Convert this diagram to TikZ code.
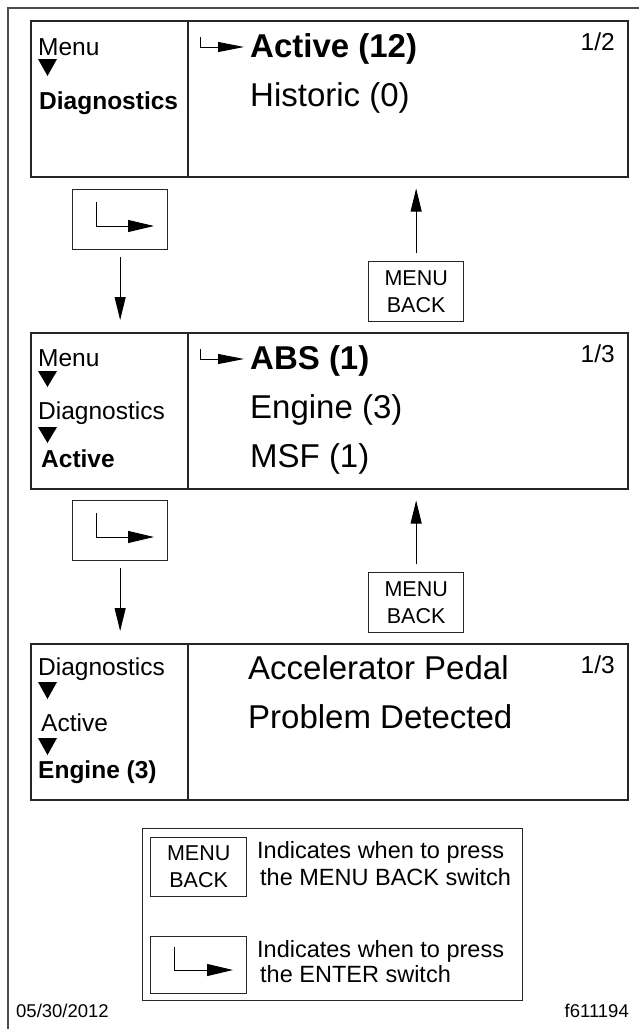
\documentclass[tikz,border=0pt]{standalone}
\usepackage{fontspec}
\setmainfont{Liberation Sans}
\usetikzlibrary{arrows.meta,calc}
\tikzset{
 cell/.style={draw=black!85, line width=1.5pt, anchor=north west, inner sep=0pt, minimum height=156pt},
 btn/.style={draw=black!85, line width=1.3pt, anchor=north west, inner sep=0pt, minimum width=95pt, minimum height=60pt, align=center, font=\fontsize{21.5}{27}\selectfont},
 lbl/.style={anchor=base west, inner sep=0pt, font=\fontsize{24.5}{28}\selectfont},
 lblb/.style={anchor=base west, inner sep=0pt, font=\fontsize{24.5}{28}\selectfont\bfseries},
 big/.style={anchor=base west, inner sep=0pt, font=\fontsize{33}{36}\selectfont},
 bigb/.style={anchor=base west, inner sep=0pt, font=\fontsize{33}{36}\selectfont\bfseries},
 pg/.style={anchor=base east, inner sep=0pt, font=\fontsize{24.5}{28}\selectfont},
 leg/.style={anchor=base west, inner sep=0pt, font=\fontsize{23.5}{27}\selectfont},
 foot/.style={inner sep=0pt, font=\fontsize{18.5}{22}\selectfont},
 flow/.style={line width=1pt, -{Triangle[length=23pt,width=11pt]}},
 hook/.style={line width=0.9pt, -{Triangle[length=26pt,width=10pt]}},
 enticon/.style={line width=1pt, -{Triangle[length=26pt,width=12pt]}},
 tri/.style={fill=black},
}
\begin{document}
\begin{tikzpicture}[x=1pt,y=-1pt]
\useasboundingbox (0,0) rectangle (639,1029);
% outer frame
\draw[line width=1.5pt, black!70] (8,1029) -- (8,8) -- (639,8);

% ---------- Panel 1 ----------
\node[cell, minimum width=157pt] (p1l) at (30,20) {};
\node[cell, minimum width=440pt] (p1r) at (187,20) {};
\node[lbl] (t11) at (38,55) {Menu};
\fill[tri] (38,59) -- (57,59) -- (47.5,76) -- cycle;
\node[lblb] (t12) at (39,109) {Diagnostics};
\draw[hook] (200,37) -- (200,47) -- (244,47);
\node[bigb] (r11) at (250,57) {Active (12)};
\node[big] (r12) at (250,106) {Historic (0)};
\node[pg] (pg1) at (615,50) {1/2};

% ---------- Gap 1 ----------
\node[btn] (e1) at (72,189) {};
\draw[enticon] ($(e1.north west)+(24,13)$) -- ($(e1.north west)+(24,37)$) -- ($(e1.north west)+(82,37)$);
\node[btn] (m1) at (368,261) {MENU\\BACK};

% ---------- Panel 2 ----------
\node[cell, minimum width=157pt] (p2l) at (30,332) {};
\node[cell, minimum width=440pt] (p2r) at (187,332) {};
\node[lbl] (t21) at (38,366) {Menu};
\fill[tri] (38,371) -- (57,371) -- (47.5,387) -- cycle;
\node[lbl] (t22) at (38,419) {Diagnostics};
\fill[tri] (38,427) -- (57,427) -- (47.5,443) -- cycle;
\node[lblb] (t23) at (41,467) {Active};
\draw[hook] (200,349) -- (200,359) -- (244,359);
\node[bigb] (r21) at (250,369) {ABS (1)};
\node[big] (r22) at (250,418) {Engine (3)};
\node[big] (r23) at (250,467) {MSF (1)};
\node[pg] (pg2) at (615,362) {1/3};

% ---------- Gap 2 ----------
\node[btn] (e2) at (72,500) {};
\draw[enticon] ($(e2.north west)+(24,13)$) -- ($(e2.north west)+(24,37)$) -- ($(e2.north west)+(82,37)$);
\node[btn] (m2) at (368,572) {MENU\\BACK};

% ---------- Panel 3 ----------
\node[cell, minimum width=157pt] (p3l) at (30,643) {};
\node[cell, minimum width=440pt] (p3r) at (187,643) {};
\node[lbl] (t31) at (38,675) {Diagnostics};
\fill[tri] (38,682) -- (57,682) -- (47.5,699) -- cycle;
\node[lbl] (t32) at (41,731) {Active};
\fill[tri] (38,738) -- (57,738) -- (47.5,755) -- cycle;
\node[lblb] (t33) at (38,778) {Engine (3)};
\node[big] (r31) at (248,679) {Accelerator Pedal};
\node[big] (r32) at (248,728) {Problem Detected};
\node[pg] (pg3) at (615,673) {1/3};

% ---------- connectors ----------
\draw[flow] ($(e1.south)+(0,7)$) -- ($(p2l.north -| e1.south)+(0,-12)$);
\draw[flow] ($(m1.north)+(0,-8)$) -- ($(p1r.south -| m1.north)+(0,11)$);
\draw[flow] ($(e2.south)+(0,7)$) -- ($(p3l.north -| e2.south)+(0,-12)$);
\draw[flow] ($(m2.north)+(0,-8)$) -- ($(p2r.south -| m2.north)+(0,11)$);

% ---------- Legend ----------
\node[draw=black!85, line width=1.3pt, anchor=north west, inner sep=0pt, minimum width=380pt, minimum height=172pt] (lg) at (142,828) {};
\node[btn, minimum width=96pt, minimum height=59pt] (lm) at (150,837) {MENU\\BACK};
\node[btn, minimum width=96pt, minimum height=57pt] (le) at (150,936) {};
\draw[enticon] ($(le.north west)+(24,11)$) -- ($(le.north west)+(24,34)$) -- ($(le.north west)+(83,34)$);
\node[leg] (l1) at (257,858) {Indicates when to press};
\node[leg] (l2) at (260,885) {the MENU BACK switch};
\node[leg] (l3) at (257,957) {Indicates when to press};
\node[leg] (l4) at (260,982) {the ENTER switch};

% ---------- Footer ----------
\node[foot, anchor=base west] (date) at (16,1017) {05/30/2012};
\node[foot, anchor=base east] (fig) at (629,1017) {f611194};
\end{tikzpicture}
\end{document}
